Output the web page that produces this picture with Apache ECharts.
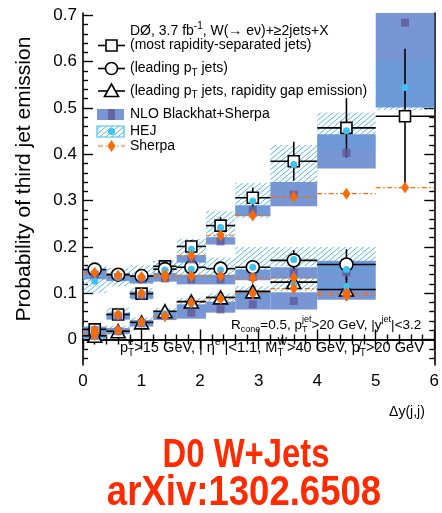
<!DOCTYPE html>
<html>
<head>
<meta charset="utf-8">
<script src="https://cdn.jsdelivr.net/npm/echarts@6/dist/echarts.min.js"></script>
<style>
  html, body { margin: 0; padding: 0; background: #fff; }
  #chart { width: 442px; height: 513px; }
</style>
</head>
<body>
<div id="chart"></div>
<script>
// Delta-y bins (bin edges)
const binLo = [0.0, 0.4, 0.8, 1.2, 1.6, 2.1, 2.6, 3.2, 4.0, 5.0];
const binHi = [0.4, 0.8, 1.2, 1.6, 2.1, 2.6, 3.2, 4.0, 5.0, 6.0];

// Most rapidity-separated jets (squares)
const sepVal     = [0.022, 0.054, 0.099, 0.158, 0.201, 0.246, 0.306, 0.385, 0.457, 0.482];
const sepErr     = [0.008, 0.008, 0.009, 0.011, 0.014, 0.018, 0.022, 0.042, 0.064, 0.146];
const sepNloMid  = [0.020, 0.050, 0.095, 0.132, 0.173, 0.212, 0.280, 0.313, 0.403, 0.684];
const sepNloLo   = [0.012, 0.043, 0.088, 0.125, 0.166, 0.205, 0.266, 0.288, 0.369, 0.501];
const sepNloHi   = [0.028, 0.058, 0.104, 0.140, 0.182, 0.221, 0.290, 0.340, 0.443, 0.780];
const sepHejMid  = [0.020, 0.055, 0.100, 0.150, 0.195, 0.242, 0.299, 0.378, 0.451, 0.544];
const sepHejLo   = [0.010, 0.043, 0.086, 0.135, 0.179, 0.220, 0.262, 0.340, 0.410, 0.495];
const sepHejHi   = [0.030, 0.069, 0.112, 0.170, 0.217, 0.277, 0.338, 0.420, 0.490, 0.602];
const sepSherpa  = [0.020, 0.054, 0.100, 0.135, 0.181, 0.225, 0.268, 0.308, 0.315, 0.328];

// Leading pT jets (circles)
const leadVal    = [0.151, 0.140, 0.137, 0.152, 0.156, 0.153, 0.156, 0.171, 0.162];
const leadErr    = [0.006, 0.006, 0.006, 0.007, 0.009, 0.011, 0.013, 0.022, 0.033];
const leadNloMid = [0.140, 0.135, 0.130, 0.135, 0.130, 0.130, 0.135, 0.144, 0.145];
const leadNloLo  = [0.130, 0.126, 0.121, 0.126, 0.119, 0.119, 0.128, 0.132, 0.120];
const leadNloHi  = [0.150, 0.144, 0.139, 0.144, 0.140, 0.140, 0.151, 0.156, 0.170];
const leadHejMid = [0.126, 0.135, 0.135, 0.148, 0.152, 0.150, 0.156, 0.173, 0.151];
const leadHejLo  = [0.100, 0.115, 0.120, 0.135, 0.135, 0.130, 0.140, 0.158, 0.140];
const leadHejHi  = [0.160, 0.155, 0.160, 0.170, 0.175, 0.177, 0.200, 0.200, 0.200];
const leadSherpa = [0.144, 0.138, 0.135, 0.140, 0.137, 0.137, 0.133, 0.133, 0.095];

// Leading pT jets, rapidity gap emission (triangles)
const gapVal     = [0.008, 0.018, 0.037, 0.061, 0.082, 0.091, 0.104, 0.124, 0.108];
const gapErr     = [0.004, 0.005, 0.006, 0.007, 0.008, 0.009, 0.011, 0.020, 0.025];
const gapNloMid  = [0.008, 0.018, 0.035, 0.052, 0.058, 0.065, 0.076, 0.083, 0.100];
const gapNloLo   = [0.002, 0.012, 0.028, 0.042, 0.045, 0.058, 0.065, 0.065, 0.086];
const gapNloHi   = [0.014, 0.025, 0.042, 0.060, 0.076, 0.082, 0.105, 0.102, 0.120];
const gapHejMid  = [0.010, 0.020, 0.037, 0.055, 0.078, 0.088, 0.100, 0.120, 0.115];
const gapHejLo   = [0.000, 0.010, 0.028, 0.045, 0.070, 0.080, 0.090, 0.105, 0.100];
const gapHejHi   = [0.020, 0.030, 0.048, 0.068, 0.090, 0.100, 0.115, 0.140, 0.130];
const gapSherpa  = [0.010, 0.020, 0.038, 0.050, 0.080, 0.088, 0.100, 0.110, 0.100];

// Axis ticks
const xTicks = [0, 1, 2, 3, 4, 5, 6];
const yTicks = [0, 0.1, 0.2, 0.3, 0.4, 0.5, 0.6, 0.7];
const Y_MIN = -0.055, Y_MAX = 0.705;

// Colours
const NLO_BLUE = '#7896d4';
const NLO_DARK = '#615c9c';
const HEJ_CYAN = '#3fc2f0';
const SHERPA_OR = '#ff6a00';

// Diagonal hatch tile for the HEJ bands
const hatchTile = (() => {
  const c = document.createElement('canvas');
  c.width = 6; c.height = 5;
  const g = c.getContext('2d');
  g.strokeStyle = 'rgba(55,172,232,0.88)';
  g.lineWidth = 1.0;
  g.beginPath();
  for (let k = -1; k <= 1; k++) {
    g.moveTo(k * 6, 5);
    g.lineTo(k * 6 + 6, 0);
  }
  g.stroke();
  return c;
})();
const HATCH = { image: hatchTile, repeat: 'repeat' };

const mid = i => (binLo[i] + binHi[i]) / 2;

function bandRows(lo, hi) {
  return lo.map((v, i) => [binLo[i], binHi[i], v, hi[i]]);
}
function errRows(val, err) {
  return val.map((v, i) => [binLo[i], binHi[i], v, err[i]]);
}
function lineRows(val) {
  return val.map((v, i) => [binLo[i], binHi[i], v]);
}
function pointRows(val) {
  return val.map((v, i) => [mid(i), v]);
}

function bandSeries(lo, hi, fill, z) {
  return {
    type: 'custom', clip: true, z, silent: true,
    data: bandRows(lo, hi),
    encode: { x: [0, 1], y: [2, 3] },
    renderItem: (params, api) => {
      const a = api.coord([api.value(0), api.value(3)]);
      const b = api.coord([api.value(1), api.value(2)]);
      return { type: 'rect',
        shape: { x: a[0], y: a[1], width: b[0] - a[0], height: b[1] - a[1] },
        style: { fill: fill } };
    }
  };
}

function errSeries(val, err, z) {
  return {
    type: 'custom', clip: true, z, silent: true,
    data: errRows(val, err),
    encode: { x: [0, 1], y: 2 },
    renderItem: (params, api) => {
      const lo = api.value(0), hi = api.value(1), v = api.value(2), e = api.value(3);
      const m = (lo + hi) / 2;
      const a = api.coord([lo, v]), b = api.coord([hi, v]);
      const c = api.coord([m, v + e]), d = api.coord([m, v - e]);
      const st = { stroke: '#000', lineWidth: 1.6 };
      return { type: 'group', children: [
        { type: 'line', shape: { x1: a[0], y1: a[1], x2: b[0], y2: b[1] }, style: st },
        { type: 'line', shape: { x1: c[0], y1: c[1], x2: d[0], y2: d[1] }, style: st }
      ] };
    }
  };
}

function sherpaLineSeries(val, z) {
  return {
    type: 'custom', clip: true, z, silent: true,
    data: lineRows(val),
    encode: { x: [0, 1], y: 2 },
    renderItem: (params, api) => {
      const a = api.coord([api.value(0), api.value(2)]);
      const b = api.coord([api.value(1), api.value(2)]);
      return { type: 'line', shape: { x1: a[0], y1: a[1], x2: b[0], y2: b[1] },
        style: { stroke: SHERPA_OR, lineWidth: 1.1, lineDash: [5, 2.5, 1.5, 2.5] } };
    }
  };
}

function markerSeries(val, symbol, size, style, z) {
  return {
    type: 'scatter', z, silent: true, clip: true,
    data: pointRows(val),
    symbol, symbolSize: size,
    itemStyle: Object.assign({ opacity: 1 }, style),
    emphasis: { disabled: true }
  };
}

const OPEN = { color: '#fff', borderColor: '#000', borderWidth: 1.6 };

const series = [
  // NLO bands
  bandSeries(sepNloLo, sepNloHi, NLO_BLUE, 1),
  bandSeries(leadNloLo, leadNloHi, NLO_BLUE, 1),
  bandSeries(gapNloLo, gapNloHi, NLO_BLUE, 1),
  // HEJ hatched bands
  bandSeries(sepHejLo, sepHejHi, HATCH, 2),
  bandSeries(leadHejLo, leadHejHi, HATCH, 2),
  bandSeries(gapHejLo, gapHejHi, HATCH, 2),
  // Sherpa dash-dot lines
  sherpaLineSeries(sepSherpa, 3),
  sherpaLineSeries(leadSherpa, 3),
  sherpaLineSeries(gapSherpa, 3),
  // data error bars
  errSeries(sepVal, sepErr, 4),
  errSeries(leadVal, leadErr, 4),
  errSeries(gapVal, gapErr, 4),
  // data markers
  markerSeries(sepVal, 'rect', 11, OPEN, 5),
  markerSeries(leadVal, 'circle', 13, OPEN, 5),
  markerSeries(gapVal, 'triangle', [14, 13], OPEN, 5),
  // NLO central values
  markerSeries(sepNloMid, 'rect', 8, { color: NLO_DARK, opacity: 0.85 }, 6),
  markerSeries(leadNloMid, 'rect', 8, { color: NLO_DARK, opacity: 0.85 }, 6),
  markerSeries(gapNloMid, 'rect', 8, { color: NLO_DARK, opacity: 0.85 }, 6),
  // HEJ central values
  markerSeries(sepHejMid, 'circle', 7, { color: HEJ_CYAN }, 7),
  markerSeries(leadHejMid, 'circle', 7, { color: HEJ_CYAN }, 7),
  markerSeries(gapHejMid, 'circle', 7, { color: HEJ_CYAN }, 7),
  // Sherpa points
  markerSeries(sepSherpa, 'diamond', [8, 12], { color: SHERPA_OR }, 8),
  markerSeries(leadSherpa, 'diamond', [8, 12], { color: SHERPA_OR }, 8),
  markerSeries(gapSherpa, 'diamond', [8, 12], { color: SHERPA_OR }, 8)
];

// minor tick values for the y axes (every 0.02)
const yMinor = [];
for (let k = -2; k <= 35; k++) {
  const v = Math.round(k * 2) / 100;
  if (v >= Y_MIN && v <= Y_MAX && Math.round(v * 100) % 10 !== 0) yMinor.push(v);
}

const AXLINE = { show: true, lineStyle: { color: '#000', width: 1.6 } };
function yAxisDef(pos, ticks, len, labels, line) {
  return {
    type: 'value', position: pos, min: Y_MIN, max: Y_MAX,
    axisLine: line ? AXLINE : { show: false },
    splitLine: { show: false },
    axisTick: { show: true, inside: true, length: len, customValues: ticks,
      lineStyle: { color: '#000', width: 1.4 } },
    axisLabel: labels
      ? { show: true, customValues: ticks, color: '#000', fontSize: 17,
          fontFamily: 'Liberation Sans', margin: 6 }
      : { show: false, customValues: ticks }
  };
}
function xAxisDef(pos, labels) {
  return {
    type: 'value', position: pos, min: 0, max: 6, interval: 1,
    axisLine: AXLINE,
    splitLine: { show: false },
    axisTick: { show: true, inside: true, length: 10, lineStyle: { color: '#000', width: 1.4 } },
    minorTick: { show: true, splitNumber: 5, length: 5, lineStyle: { color: '#000', width: 1.4 } },
    minorSplitLine: { show: false },
    axisLabel: labels
      ? { show: true, color: '#000', fontSize: 17, fontFamily: 'Liberation Sans', margin: 8,
          formatter: v => (xTicks.includes(v) ? String(v) : '') }
      : { show: false }
  };
}

// ---- text helpers (sub/superscripts built from measured pieces) ----
const FONT = 'Liberation Sans';
const mctx = document.createElement('canvas').getContext('2d');
function tw(s, fs) { mctx.font = fs + 'px "' + FONT + '"'; return mctx.measureText(s).width; }
function txt(x, y, s, fs, extra) {
  return Object.assign({ type: 'text', x, y, silent: true,
    style: { text: s, fontSize: fs, fontFamily: FONT, fill: '#000',
      align: 'left', verticalAlign: 'middle' } }, extra || {});
}
function scripted(x, y, parts, fs) {
  const small = Math.round(fs * 0.68);
  const out = [];
  let cx = x;
  for (const p of parts) {
    const s = p[0], kind = p[1] || 'n';
    if (kind === 'n') { out.push(txt(cx, y, s, fs)); cx += tw(s, fs); }
    else if (kind === 'sub') { out.push(txt(cx, y + fs * 0.33, s, small)); cx += tw(s, small); }
    else if (kind === 'sup') { out.push(txt(cx, y - fs * 0.4, s, small)); cx += tw(s, small); }
    else if (kind === 'ss') {
      out.push(txt(cx, y + fs * 0.33, s, small));
      out.push(txt(cx, y - fs * 0.42, p[2], small));
      cx += Math.max(tw(s, small), tw(p[2], small));
    }
  }
  return out;
}

// ---- legend glyphs ----
const LX0 = 98, LX1 = 125, LXC = 111.5;
const legRows = [45.5, 68.5, 91, 114.5, 131.5, 146];
const blk = { stroke: '#000', lineWidth: 1.6 };
const legend = [
  { type: 'line', shape: { x1: LX0, y1: legRows[0], x2: LX1, y2: legRows[0] }, style: blk },
  { type: 'rect', shape: { x: LXC - 5.5, y: legRows[0] - 5.5, width: 11, height: 11 }, style: { fill: '#fff', stroke: '#000', lineWidth: 1.6 } },
  { type: 'line', shape: { x1: LX0, y1: legRows[1], x2: LX1, y2: legRows[1] }, style: blk },
  { type: 'circle', shape: { cx: LXC, cy: legRows[1], r: 6 }, style: { fill: '#fff', stroke: '#000', lineWidth: 1.6 } },
  { type: 'line', shape: { x1: LX0, y1: legRows[2], x2: LX1, y2: legRows[2] }, style: blk },
  { type: 'polygon', shape: { points: [[LXC, legRows[2] - 7], [LXC + 7, legRows[2] + 5.5], [LXC - 7, legRows[2] + 5.5]] }, style: { fill: '#fff', stroke: '#000', lineWidth: 1.6 } },
  { type: 'rect', shape: { x: 97, y: legRows[3] - 5.5, width: 27, height: 11 }, style: { fill: NLO_BLUE } },
  { type: 'rect', shape: { x: LXC - 3.5, y: legRows[3] - 5.5, width: 7, height: 11 }, style: { fill: NLO_DARK, opacity: 0.85 } },
  { type: 'rect', shape: { x: 97, y: legRows[4] - 5.5, width: 27, height: 11 }, style: { fill: HATCH, stroke: HEJ_CYAN, lineWidth: 1.2 } },
  { type: 'circle', shape: { cx: LXC, cy: legRows[4], r: 3.5 }, style: { fill: HEJ_CYAN } },
  { type: 'line', shape: { x1: LX0, y1: legRows[5], x2: LX1, y2: legRows[5] }, style: { stroke: SHERPA_OR, lineWidth: 1.1, lineDash: [5, 2.5, 1.5, 2.5] } },
  { type: 'polygon', shape: { points: [[LXC, legRows[5] - 6], [LXC + 4, legRows[5]], [LXC, legRows[5] + 6], [LXC - 4, legRows[5]]] }, style: { fill: SHERPA_OR } }
];

const TX = 130, FS = 14;
const texts = [].concat(
  scripted(TX, 31.5, [['DØ, 3.7 fb'], ['-1', 'sup'], [', W(→ eν)+≥2jets+X']], FS),
  scripted(TX, legRows[0], [['(most rapidity-separated jets)']], FS),
  scripted(TX, legRows[1], [['(leading p'], ['T', 'sub'], [' jets)']], FS),
  scripted(TX, legRows[2], [['(leading p'], ['T', 'sub'], [' jets, rapidity gap emission)']], FS),
  scripted(TX, legRows[3], [['NLO Blackhat+Sherpa']], FS),
  scripted(TX, legRows[4], [['HEJ']], FS),
  scripted(TX, legRows[5], [['Sherpa']], FS),
  scripted(231, 325, [['R'], ['cone', 'sub'], ['=0.5, p'], ['T', 'ss', 'jet'], ['>20 GeV, |y'], ['jet', 'sup'], ['|<3.2']], 13.5),
  scripted(120, 348, [['p'], ['T', 'ss', 'e'], ['>15 GeV, | η'], ['e', 'sup'], [' |<1.1, M'], ['T', 'ss', 'W'], ['>40 GeV, p\u0338'], ['T', 'sub'], ['>20 GeV']], 14.6)
);

const BIG_FONT = '"Liberation Sans", Arial, sans-serif';
const others = [
  { type: 'text', x: 24, y: 179, rotation: Math.PI / 2, silent: true,
    style: { text: 'Probability of third jet emission', fontSize: 21, fontFamily: FONT,
      fill: '#000', align: 'center', verticalAlign: 'middle' } },
  { type: 'text', x: 407, y: 412, silent: true,
    style: { text: 'Δy(j,j)', fontSize: 14, fontFamily: FONT, fill: '#000',
      align: 'center', verticalAlign: 'middle' } },
  { type: 'text', x: 246, y: 456, scaleX: 0.82, silent: true,
    style: { text: 'D0 W+Jets', fontSize: 40, fontWeight: 'bold', fontFamily: BIG_FONT,
      fill: '#ff2a00', align: 'center', verticalAlign: 'middle' } },
  { type: 'text', x: 244, y: 493, scaleX: 0.87, silent: true,
    style: { text: 'arXiv:1302.6508', fontSize: 42, fontWeight: 'bold', fontFamily: BIG_FONT,
      fill: '#ff2a00', align: 'center', verticalAlign: 'middle' } }
];

const chart = echarts.init(document.getElementById('chart'), null, { renderer: 'canvas' });
chart.setOption({
  animation: false,
  backgroundColor: '#fff',
  grid: { left: 83, right: 7, top: 13, bottom: 148, containLabel: false },
  xAxis: [xAxisDef('bottom', true), xAxisDef('top', false)],
  yAxis: [
    yAxisDef('left', yTicks, 10, true, true),
    yAxisDef('left', yMinor, 5, false, false),
    yAxisDef('right', yTicks, 10, false, true),
    yAxisDef('right', yMinor, 5, false, false)
  ],
  series: series,
  graphic: { elements: [].concat(legend, texts, others) }
});
</script>
</body>
</html>
